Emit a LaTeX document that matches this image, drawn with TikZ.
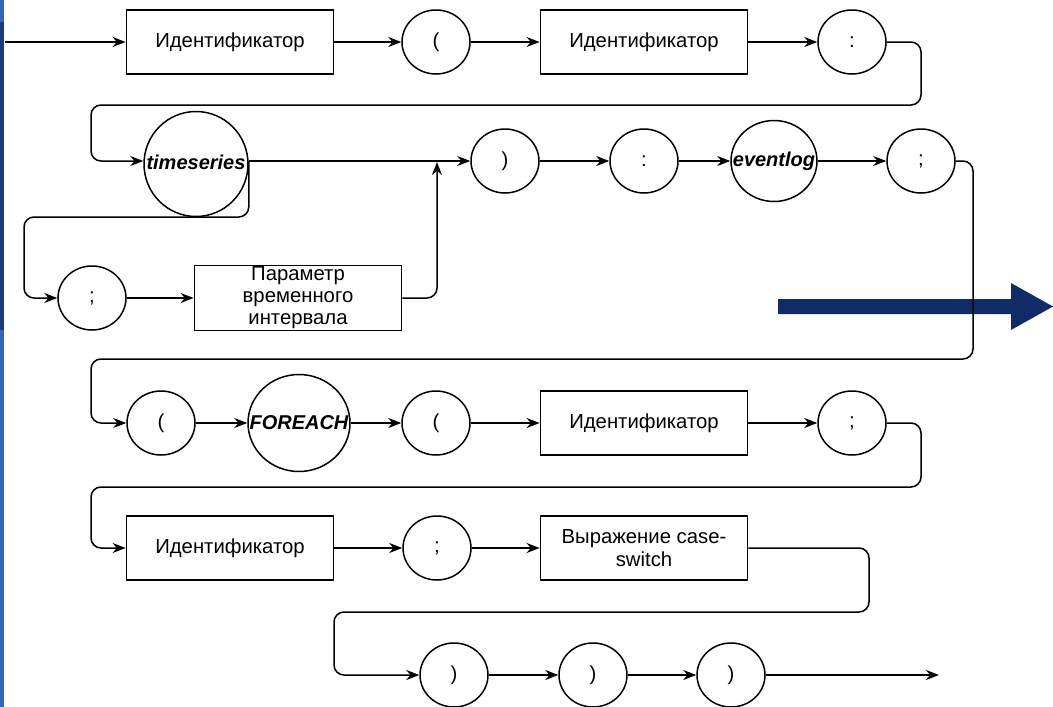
\documentclass[tikz,border=0pt]{standalone}
\usepackage{fontspec}
\setmainfont{Liberation Sans}
\usetikzlibrary{shapes.geometric,arrows.meta}

\definecolor{navyarrow}{HTML}{112B66}
\definecolor{stripdark}{HTML}{1C3B7C}
\definecolor{striplight}{HTML}{3A63B5}

% keyword text that does not widen its ellipse
\newcommand{\kwtext}[1]{\makebox[0pt]{#1}}

\tikzset{
  every node/.style={font=\fontsize{20.3}{22}\selectfont},
  conn/.style={line width=1.5pt, -{Stealth[length=13pt,width=10pt]}},
  turn/.style={conn, rounded corners=10pt},
  term/.style={ellipse, draw, line width=1.5pt, minimum width=68pt,
               minimum height=64pt, inner sep=0pt},
  kw/.style={term, font=\fontsize{20}{22}\selectfont\bfseries\itshape},
  nterm/.style={rectangle, draw, line width=1.8pt, minimum width=207pt,
                minimum height=64pt, inner sep=0pt, align=center},
}

\begin{document}
\begin{tikzpicture}[x=1pt, y=-1pt]
  % canvas
  \fill[white] (0,0) rectangle (1053,707);
  \useasboundingbox (0,0) rectangle (1053,707);

  % side strip
  \fill[striplight] (0,0) rectangle (3.5,707);
  \fill[stripdark] (0,22) rectangle (3.5,330);

  % big transition arrow
  \fill[navyarrow] (778,299) -- (1011,299) -- (1011,283) -- (1053,306.5)
        -- (1011,330) -- (1011,314) -- (778,314) -- cycle;

  % row 1
  \coordinate (start) at (5,42);
  \node[nterm] (id1) at (230,42) {Идентификатор};
  \node[term]  (lp1) at (436,42) {(};
  \node[nterm] (id2) at (644,42) {Идентификатор};
  \node[term]  (col1) at (852,42) {:};

  % row 2
  \node[kw, minimum width=104pt, minimum height=105pt] (ts) at (196,164)
       {\raisebox{3pt}{\kwtext{timeseries}}};
  \node[term]  (rp1) at (505,161) {)};
  \node[term]  (col2) at (644,161) {:};
  \node[kw, minimum width=86pt, minimum height=81pt] (ev) at (774,161) {\kwtext{eventlog}};
  \node[term]  (sc1) at (921,161) {;};

  % branch row
  \node[term]  (sc2) at (92,298) {;};
  \node[nterm, minimum height=65pt] (par) at (298,298)
       {Параметр\\временного\\интервала};

  % row 3
  \node[term]  (lp2) at (161,423) {(};
  \node[kw, minimum width=102pt, minimum height=97pt] (fe) at (299,423) {\kwtext{FOREACH}};
  \node[term]  (lp3) at (436,423) {(};
  \node[nterm] (id3) at (644,423) {Идентификатор};
  \node[term]  (sc3) at (852,423) {;};

  % row 4
  \node[nterm] (id4) at (230,548) {Идентификатор};
  \node[term]  (sc4) at (437,548) {;};
  \node[nterm, font=\fontsize{20.3}{23}\selectfont] (cs) at (644,548)
       {Выражение case-\\switch};

  % row 5
  \node[term]  (rp2) at (454,675) {)};
  \node[term]  (rp3) at (593,675) {)};
  \node[term]  (rp4) at (731,675) {)};
  \coordinate (finish) at (939,675);

  % connectors, row 1
  \draw[conn] (start) -- (id1);
  \draw[conn] (id1) -- (lp1);
  \draw[conn] (lp1) -- (id2);
  \draw[conn] (id2) -- (col1);
  \draw[turn] (col1.east) -| (921,105) -| (91,161) -- (ts.west |- rp1);

  % connectors, row 2
  \draw[conn] (ts.east |- rp1) -- (rp1);
  \draw[turn] (ts.east |- rp1) |- (24,217) |- (sc2.west);
  \draw[conn] (sc2) -- (par);
  \draw[turn] (par.east) -| (437,162);
  \draw[conn] (rp1) -- (col2);
  \draw[conn] (col2) -- (ev);
  \draw[conn] (ev) -- (sc1);
  \draw[turn] (sc1.east) -| (973,359) -| (91,423) -- (lp2.west);

  % connectors, row 3
  \draw[conn] (lp2) -- (fe);
  \draw[conn] (fe) -- (lp3);
  \draw[conn] (lp3) -- (id3);
  \draw[conn] (id3) -- (sc3);
  \draw[turn] (sc3.east) -| (921,487) -| (91,548) -- (id4.west);

  % connectors, row 4
  \draw[conn] (id4) -- (sc4);
  \draw[conn] (sc4) -- (cs);
  \draw[turn] (cs.east) -| (869,612) -| (334,675) -- (rp2.west);

  % connectors, row 5
  \draw[conn] (rp2) -- (rp3);
  \draw[conn] (rp3) -- (rp4);
  \draw[conn] (rp4) -- (finish);
\end{tikzpicture}
\end{document}
